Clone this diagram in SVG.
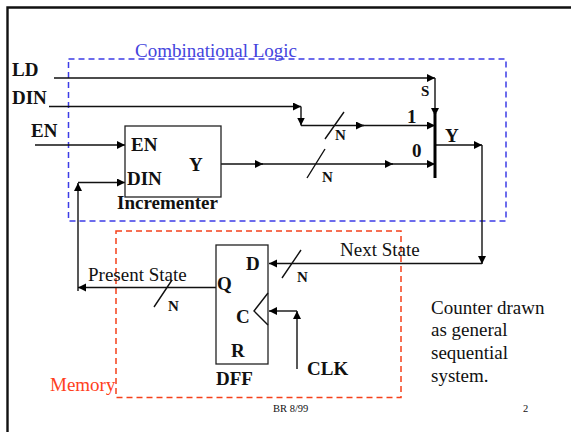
<svg xmlns="http://www.w3.org/2000/svg" width="571" height="432" viewBox="0 0 571 432">
<style>
text{font-family:"Liberation Serif",serif;fill:#111}
.b{font-weight:bold;font-size:19px}
.s{font-weight:bold;font-size:15px}
.r{font-size:19px}
.w{fill:none;stroke:#111;stroke-width:1.4}
.h{fill:#000;stroke:none}
.box{fill:#fff;stroke:#222;stroke-width:1.3}
</style>
<defs>
<marker id="a" markerUnits="userSpaceOnUse" markerWidth="9" markerHeight="9" refX="8" refY="4" orient="auto"><path class="h" d="M0 0L8 4L0 8Z"/></marker>
</defs>
<rect width="571" height="432" fill="#fff"/>
<path id="frame" d="M7.500 432V7.500H571" fill="none" stroke="#111" stroke-width="2.4"/>
<g id="combinational-logic">
<rect x="68.500" y="59" width="437.500" height="162" fill="none" stroke="#3c3ce6" stroke-width="1.5" stroke-dasharray="6 4"/>
<text x="135" y="57" class="r" style="fill:#4444dd">Combinational Logic</text>
</g>
<g id="memory">
<rect x="116" y="231" width="285" height="166.500" fill="none" stroke="#f5401a" stroke-width="1.5" stroke-dasharray="6 4"/>
<text x="50" y="391" class="r" style="fill:#ff4020">Memory</text>
</g>
<g id="connectors">
<path class="w" d="M54 78H435" marker-end="url(#a)"/>
<path class="w" d="M435 78V116" marker-end="url(#a)"/>
<path class="w" d="M49 106.500H301" marker-end="url(#a)"/>
<path class="w" d="M301 106.500V125.500" marker-end="url(#a)"/>
<path class="w" d="M301 125.500H364" marker-end="url(#a)"/>
<path class="w" d="M360 125.500H435" marker-end="url(#a)"/>
<path class="w" d="M35 145H125" marker-end="url(#a)"/>
<path class="w" d="M78 291V183" marker-end="url(#a)"/>
<path class="w" d="M78 182.500H125" marker-end="url(#a)"/>
<path class="w" d="M221 164H263" marker-end="url(#a)"/>
<path class="w" d="M259 164H393" marker-end="url(#a)"/>
<path class="w" d="M389 164H435" marker-end="url(#a)"/>
<path class="w" d="M435 145H482" marker-end="url(#a)"/>
<path class="w" d="M482 145V264" marker-end="url(#a)"/>
<path class="w" d="M482 263.500H269" marker-end="url(#a)"/>
<path class="w" d="M216 287.500H78" marker-end="url(#a)"/>
<path class="w" d="M297 369V311" marker-end="url(#a)"/>
<path class="w" d="M297 311H269" marker-end="url(#a)"/>
<path class="w" d="M344 112L325 139M325 149L307 178M301 250L282 278M172 280L154 307"/>
</g>
<g id="incrementer">
<rect class="box" x="125" y="126" width="96" height="71"/>
<text class="b" x="131" y="151">EN</text>
<text class="b" x="127" y="185">DIN</text>
<text class="b" x="189" y="171">Y</text>
<text class="b" x="117" y="209">Incrementer</text>
</g>
<g id="mux">
<path d="M435 113V178" stroke="#000" stroke-width="3" fill="none"/>
<text class="s" x="421" y="96">S</text>
<text class="b" x="407" y="123">1</text>
<text class="b" x="412" y="157">0</text>
<text class="b" x="445" y="142">Y</text>
</g>
<g id="dff">
<rect class="box" x="216" y="245" width="52" height="119"/>
<path class="w" d="M268 293L254 311L268 325"/>
<text class="b" x="246" y="270">D</text>
<text class="b" x="217" y="290">Q</text>
<text class="b" x="236" y="323">C</text>
<text class="b" x="231" y="357">R</text>
<text class="b" x="216" y="385">DFF</text>
</g>
<g id="labels">
<text class="b" x="12" y="76">LD</text>
<text class="b" x="12" y="104">DIN</text>
<text class="b" x="31" y="137">EN</text>
<text class="s" x="335" y="140">N</text>
<text class="s" x="322" y="182">N</text>
<text class="s" x="297" y="282">N</text>
<text class="s" x="168" y="311">N</text>
<text class="b" x="307" y="375">CLK</text>
<text class="r" x="88" y="281">Present State</text>
<text class="r" x="340" y="256">Next State</text>
<text class="r" x="431" y="314">Counter drawn</text>
<text class="r" x="431" y="336">as general</text>
<text class="r" x="431" y="359">sequential</text>
<text class="r" x="431" y="382">system.</text>
<text x="273" y="412" font-size="10.500">BR 8/99</text>
<text x="523" y="412" font-size="10.500">2</text>
</g>
</svg>
